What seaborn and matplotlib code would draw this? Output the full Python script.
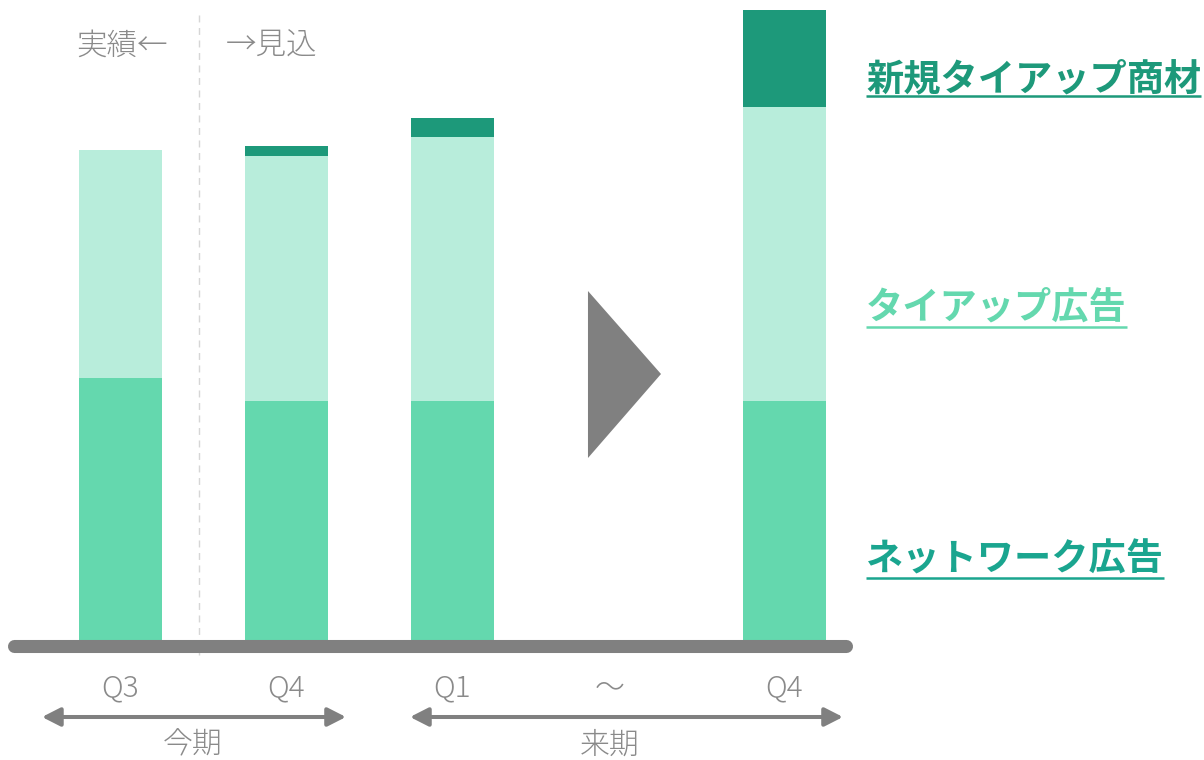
import matplotlib
matplotlib.use("Agg")
import matplotlib.pyplot as plt
from matplotlib.patches import Polygon
import seaborn as sns
import numpy as np
import pandas as pd

# Quarter slots (slot 3 is the gap between this period and the next period's Q4)
positions = [0, 1, 2, 4]
quarters = ["Q3", "Q4", "Q1", "Q4"]
network_ads = [26.7, 24.4, 24.4, 24.4]
tieup_ads = [22.8, 24.5, 26.4, 29.4]
new_tieup = [0.0, 1.0, 1.95, 9.75]

series_names = ["ネットワーク広告", "タイアップ広告", "新規タイアップ商材"]
bar_colors = ["#64D8AE", "#B8EDDB", "#1D997A"]
label_colors = ["#1AA58F", "#64D8AE", "#1D997A"]

sns.set_theme(style="white")
plt.rcParams["font.family"] = ["Noto Sans CJK JP", "DejaVu Sans"]

df = pd.DataFrame({
    "pos": positions,
    "network": network_ads,
    "tieup": tieup_ads,
    "new": new_tieup,
})
df["lvl1"] = df["network"]
df["lvl2"] = df["network"] + df["tieup"]
df["lvl3"] = df["lvl2"] + df["new"]

fig = plt.figure(figsize=(12.04, 7.6), dpi=100)
ax = fig.add_axes([0, 0, 1, 1])

# Stacked bars: draw cumulative totals back to front
for col, colr in zip(["lvl3", "lvl2", "lvl1"], bar_colors[::-1]):
    sns.barplot(data=df, x="pos", y=col, native_scale=True, width=0.5,
                color=colr, saturation=1, ax=ax, edgecolor="none", zorder=2)

ax.set_xlim(-0.723, 6.530)
ax.set_ylim(-11.5, 64.5)
ax.axis("off")

gray = "#808080"
text_gray = "#8a8a8a"

# Baseline
ax.plot([-0.636, 4.371], [-0.05, -0.05], color=gray, lw=9.4,
        solid_capstyle="round", zorder=4)

# Divider between actual and forecast
ax.plot([0.476, 0.476], [63.0, -1.0], color="#d6d6d6", lw=1.0,
        ls=(0, (5, 4)), zorder=1)
ax.text(0.289, 59.9, "実績←", ha="right", va="center", fontsize=22,
        color=text_gray, fontweight="light")
ax.text(0.639, 59.9, "→見込", ha="left", va="center", fontsize=22,
        color=text_gray, fontweight="light")

# Transition triangle in the gap slot
tri = Polygon([[2.819, 35.4], [2.819, 18.7], [3.259, 27.1]], closed=True,
              facecolor=gray, edgecolor="none", zorder=3)
ax.add_patch(tri)

# Quarter labels
for p, q in zip(positions, quarters):
    ax.text(p, -4.3, q, ha="center", va="center", fontsize=21.5,
            color=text_gray, fontweight="light")
ax.text(2.95, -4.3, "～", ha="center", va="center", fontsize=21.5,
        color=text_gray, fontweight="light")

# Period spans
arrow_style = "<|-|>,head_length=0.55,head_width=0.28"
for x0, x1, label, xc in [(-0.47, 1.361, "今期", 0.44),
                          (1.747, 4.355, "来期", 2.95)]:
    ax.annotate("", xy=(x1, -7.2), xytext=(x0, -7.2),
                arrowprops=dict(arrowstyle=arrow_style, color=gray, lw=2.9,
                                shrinkA=0, shrinkB=0, mutation_scale=20))
    ax.text(xc, -10.0, label, ha="center", va="center", fontsize=21.5,
            color=text_gray, fontweight="light")

# Series labels on the right, underlined
label_y = [8.5, 33.7, 56.5]
underline_y = [6.7, 31.8, 54.9]
label_texts = []
for name, colr, ly in zip(series_names, label_colors, label_y):
    t = ax.text(4.494, ly, name, ha="left", va="center", fontsize=26.8,
                color=colr, fontweight="bold")
    label_texts.append(t)

fig.canvas.draw()
renderer = fig.canvas.get_renderer()
inv = ax.transData.inverted()
for t, colr, uy in zip(label_texts, label_colors, underline_y):
    bb = t.get_window_extent(renderer)
    x_left = inv.transform((bb.x0, 0))[0]
    x_right = inv.transform((bb.x1, 0))[0]
    ax.plot([x_left, x_right], [uy, uy], color=colr, lw=1.8,
            solid_capstyle="butt", zorder=3)

fig.savefig("out.png", dpi=100)
